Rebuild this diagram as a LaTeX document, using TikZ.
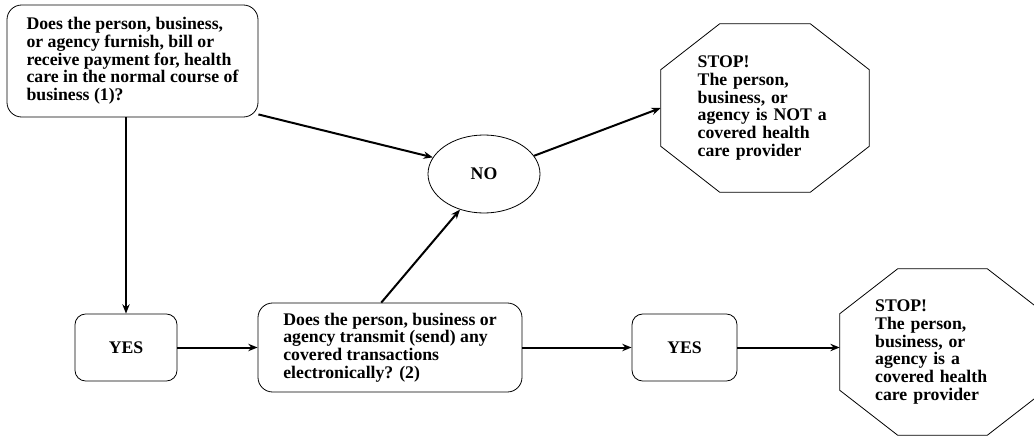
\documentclass[tikz,border=0pt]{standalone}
\usepackage{fontspec}
\setmainfont{Liberation Serif}
\usetikzlibrary{arrows.meta, positioning, calc, shapes.geometric}

\newcommand{\octframe}[3]{%
  \draw[line width=0.6pt] ($(#1.north west)+(#2,0)$) -- ($(#1.north east)+(-#2,0)$)
    -- ($(#1.north east)+(0,#3)$) -- ($(#1.south east)+(0,-#3)$)
    -- ($(#1.south east)+(-#2,0)$) -- ($(#1.south west)+(#2,0)$)
    -- ($(#1.south west)+(0,-#3)$) -- ($(#1.north west)+(0,#3)$) -- cycle;}

\begin{document}
\begin{tikzpicture}[
    x=0.75pt, y=-0.75pt,
    txt/.style={font={\bfseries\fontsize{13.3}{13.3}\selectfont}},
    box/.style={txt, draw, rounded corners=11pt, line width=0.6pt, align=left, inner sep=0pt},
    ans/.style={box, rounded corners=8pt, align=center},
    oval/.style={txt, draw, ellipse, line width=0.6pt, inner sep=0pt,
                 minimum width=84pt, minimum height=58.5pt},
    stopbox/.style={txt, inner sep=0pt, align=left, text width=101pt},
    conn/.style={->, line width=1.5pt},
    >={Stealth[length=7pt, width=5.5pt]}
]
\useasboundingbox (0,0) rectangle (1034,435);

\node[box, minimum width=188.25pt, minimum height=84pt] (q1) at (132.5,61)
  {Does the person, business,\\or agency furnish, bill or\\receive payment for, health\\care in the normal course of\\business (1)?};
\node[ans, minimum width=76.5pt, minimum height=50.25pt] (yes1) at (126,347.5) {YES};
\node[box, minimum width=198pt, minimum height=66.75pt] (q2) at (390,347.5)
  {Does the person, business or\\agency transmit (send) any\\covered transactions\\electronically? (2)};
\node[ans, minimum width=78.75pt, minimum height=50.25pt] (yes2) at (684.5,347.5) {YES};
\node[oval] (no1) at (484,174) {NO};
\node[stopbox, minimum width=156pt, minimum height=126pt] (stop1) at (765,108)
  {STOP!\\The person,\\business, or\\agency is NOT a\\covered health\\care provider};
\node[stopbox, minimum width=153.75pt, minimum height=124.5pt] (stop2) at (942.5,352)
  {STOP!\\The person,\\business, or\\agency is a\\covered health\\care provider};
\octframe{stop1}{59}{46}
\octframe{stop2}{58}{45}

\draw[conn] (q1.south -| yes1) -- (yes1);
\draw[conn] (q1.337) -- (no1.162);
\draw[conn] (no1.20) -- (stop1.west);
\draw[conn] (yes1) -- (q2);
\draw[conn] (q2.101) -- (no1.236);
\draw[conn] (q2) -- (yes2);
\draw[conn] (yes2) -- (yes2 -| stop2.west);
\end{tikzpicture}
\end{document}
